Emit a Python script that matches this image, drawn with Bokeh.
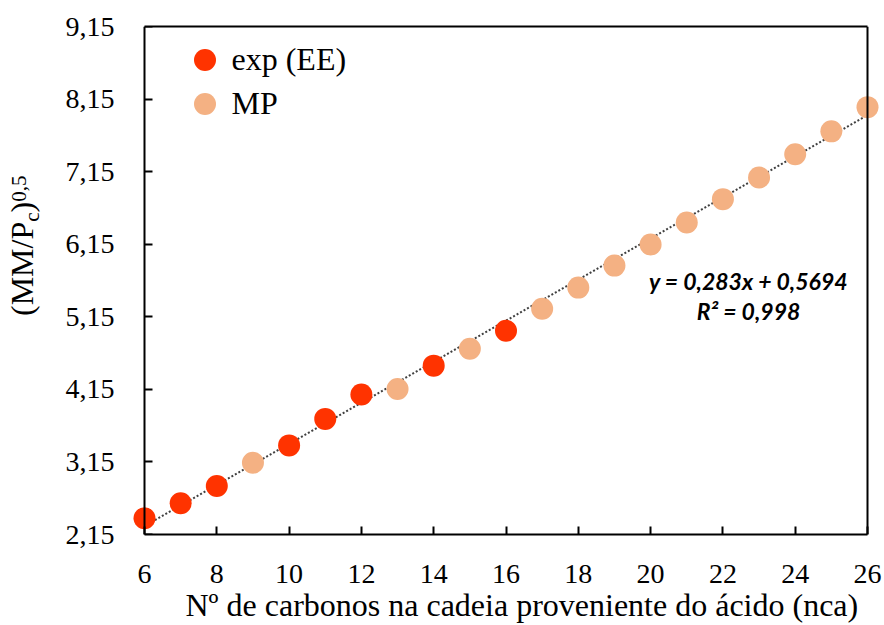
from bokeh.plotting import figure
from bokeh.models import (ColumnDataSource, Legend, LegendItem, Label, FixedTicker,
                          CustomJSTickFormatter, LinearAxis, Title, Div)
from bokeh.layouts import row
from bokeh.embed import file_html
from bokeh.resources import INLINE

# ---- data ----
exp_nca = [6, 7, 8, 10, 11, 12, 14, 16]
exp_val = [2.375, 2.581, 2.819, 3.378, 3.743, 4.079, 4.477, 4.958]
mp_nca = [9, 13, 15, 17, 18, 19, 20, 21, 22, 23, 24, 25, 26]
mp_val = [3.139, 4.156, 4.710, 5.260, 5.552, 5.855, 6.147, 6.449, 6.771, 7.068, 7.389, 7.705, 8.039]
trend_slope = 0.283
trend_intercept = 0.5694
x_min, x_max = 6, 26
y_min, y_max = 2.15, 9.15
x_ticks = [6, 8, 10, 12, 14, 16, 18, 20, 22, 24, 26]
y_ticks = [2.15, 3.15, 4.15, 5.15, 6.15, 7.15, 8.15, 9.15]
eq_text = "y = 0,283x + 0,5694"
r2_text = "R² = 0,998"
x_title = "Nº de carbonos na cadeia proveniente do ácido (nca)"
legend_labels = ["exp (EE)", "MP"]

EXP_COLOR = "#FF3300"
MP_COLOR = "#F4B183"
SERIF = "Liberation Serif"

# ---- page geometry (pixels) ----
W, H = 884, 625
DIV_W = 50
AX_L, AX_R = 144, 867          # pixel positions of x=6 and x=26
FR_L, FR_R = 130, 881          # frame edges (a little wider so edge markers are not cut)
FR_T, FR_B = 26, 534
ppu = (AX_R - AX_L) / (x_max - x_min)
xr = (x_min - (AX_L - FR_L) / ppu, x_max + (FR_R - AX_R) / ppu)

p = figure(x_range=xr, y_range=(y_min, y_max),
           frame_width=FR_R - FR_L, frame_height=FR_B - FR_T,
           output_backend="svg", toolbar_location=None,
           min_border_left=FR_L - DIV_W, min_border_right=W - FR_R,
           min_border_top=FR_T, min_border_bottom=H - FR_B)
p.background_fill_color = "white"
p.border_fill_color = "white"
p.grid.visible = False
p.outline_line_color = None

for ax in (p.xaxis[0], p.yaxis[0]):
    ax.axis_line_width = 2
    ax.axis_line_color = "black"
    ax.major_tick_line_width = 2
    ax.major_tick_in = 8
    ax.major_tick_out = 0
    ax.minor_tick_line_color = None
    ax.major_label_text_font = SERIF
    ax.major_label_text_font_size = "28px"
    ax.major_label_text_color = "black"

p.xaxis[0].ticker = FixedTicker(ticks=x_ticks)
p.xaxis[0].bounds = (x_min, x_max)
p.xaxis[0].major_label_standoff = 30

# left axis at the frame edge: labels only
p.yaxis[0].ticker = FixedTicker(ticks=y_ticks)
p.yaxis[0].formatter = CustomJSTickFormatter(code="return tick.toFixed(2).replace('.', ',');")
p.yaxis[0].major_label_standoff = 16
p.yaxis[0].axis_line_color = None
p.yaxis[0].major_tick_line_color = None

# left axis line and ticks at x = 6 (no labels)
y_line = LinearAxis(ticker=FixedTicker(ticks=y_ticks), fixed_location=x_min,
                    axis_line_width=2, axis_line_color="black",
                    major_tick_line_width=2, major_tick_in=8, major_tick_out=0,
                    minor_tick_line_color=None, major_label_text_color=None,
                    major_label_standoff=0)
p.add_layout(y_line, "left")

# top and right border lines of the plot area
top_ax = LinearAxis(ticker=FixedTicker(ticks=[]), bounds=(x_min, x_max),
                    axis_line_width=2, axis_line_color="black",
                    major_tick_line_color=None, minor_tick_line_color=None,
                    major_label_text_color=None)
right_ax = LinearAxis(ticker=FixedTicker(ticks=[]), fixed_location=x_max,
                      axis_line_width=2, axis_line_color="black",
                      major_tick_line_color=None, minor_tick_line_color=None,
                      major_label_text_color=None)
p.add_layout(top_ax, "above")
p.add_layout(right_ax, "right")

# trend line
tx = [x_min, x_max]
ty = [trend_slope * v + trend_intercept for v in tx]
p.line(tx, ty, line_color="#404040", line_width=2, line_dash="2 2")

src_exp = ColumnDataSource(dict(x=exp_nca, y=exp_val))
src_mp = ColumnDataSource(dict(x=mp_nca, y=mp_val))
r_mp = p.scatter("x", "y", source=src_mp, size=22, fill_color=MP_COLOR, line_color=None)
r_exp = p.scatter("x", "y", source=src_exp, size=22, fill_color=EXP_COLOR, line_color=None)

def make_legend(label, rend, top_px):
    return Legend(items=[LegendItem(label=label, renderers=[rend])],
                  location=(204 - 27.5 - FR_L, FR_B - top_px - 55), padding=0, margin=0,
                  glyph_width=55, glyph_height=55, label_standoff=-41,
                  border_line_color=None, background_fill_alpha=0,
                  label_text_font=SERIF, label_text_font_size="32px",
                  label_text_color="black", label_text_baseline="middle")

p.add_layout(make_legend(legend_labels[0], r_exp, 59 - 27.5), "center")
p.add_layout(make_legend(legend_labels[1], r_mp, 103 - 27.5), "center")

def dx(px):
    return x_min + (px - AX_L) / ppu

def dy(py):
    return y_min + (FR_B - py) * (y_max - y_min) / (FR_B - FR_T)

# equation
p.add_layout(Label(x=dx(748), y=dy(280), text=eq_text, text_align="center",
                   text_baseline="middle", text_font="Lato",
                   text_font_style="bold italic", text_font_size="23px", text_color="black"))
p.add_layout(Label(x=dx(748), y=dy(310), text=r2_text, text_align="center",
                   text_baseline="middle", text_font="Lato",
                   text_font_style="bold italic", text_font_size="23px", text_color="black"))

# x title
p.add_layout(Title(text=x_title, align="left", offset=185 - FR_L,
                   standoff=-2, text_font=SERIF, text_font_size="32px",
                   text_font_style="normal", text_color="black"), "below")

# y title with subscript and superscript
ylab = Div(
    text=("<div style=\"position:absolute; left:6px; top:316px; transform:rotate(-90deg);"
          " transform-origin:0 0; white-space:nowrap; font-family:'Liberation Serif';"
          " font-size:32px; line-height:1; color:#000;\">(MM/P"
          "<span style=\"font-size:21px; position:relative; top:6px;\">c</span>)"
          "<span style=\"font-size:21px; position:relative; top:-7px;\">0,5</span></div>"),
    width=DIV_W, height=H, margin=0, styles={"position": "relative"})

layout = row(ylab, p, spacing=0)
open("out.html", "w").write(file_html(layout, INLINE))
